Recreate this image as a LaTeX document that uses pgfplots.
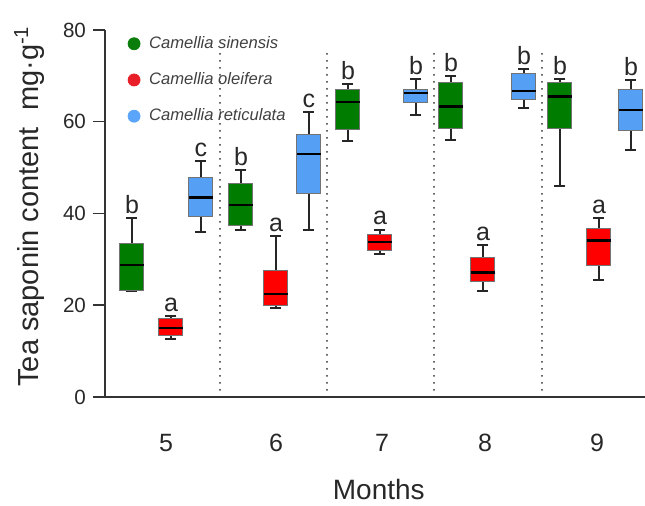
\documentclass[border=0pt]{standalone}
\usepackage{fontspec}
\setmainfont{Liberation Sans}
\usepackage{pgfplots}
\pgfplotsset{compat=1.18}
\usepgfplotslibrary{statistics}
\definecolor{cgreen}{RGB}{0,125,0}
\definecolor{cred}{RGB}{255,0,0}
\definecolor{cblue}{RGB}{85,160,245}
\definecolor{lgreen}{RGB}{10,125,10}
\definecolor{lred}{RGB}{232,30,40}
\definecolor{lblue}{RGB}{90,165,250}
\definecolor{txt}{RGB}{40,40,40}
\pgfplotsset{
  mybox/.style={fill=#1, draw=black!55, line width=0.5pt, solid, forget plot,
    boxplot/draw direction=y,
    boxplot/box extend=24, boxplot/whisker extend=11,
    boxplot/every median/.style={draw=black, line width=1.2pt},
    boxplot/every whisker/.style={draw=black!85, line width=1pt}},
  sep/.style={black!80, line width=1pt, dash pattern=on 0pt off 3.5pt, line cap=round, forget plot},
}
\tikzset{lett/.style={anchor=base, inner sep=0pt, yshift=2.3pt, font=\fontsize{12.5}{14}\selectfont, text=txt}}
\begin{document}
\begin{tikzpicture}
\begin{axis}[name=ax, scale only axis, width=270pt, height=183.5pt,
  xmin=105, xmax=645, ymin=0, ymax=80,
  axis x line=bottom, axis y line=left,
  axis line style={-, line width=0.75pt, draw=black!80},
  ytick={0,20,40,60,80}, xtick={166,276,382,485,597}, xticklabels={5,6,7,8,9},
  x tick style={draw=none}, y tick style={line width=0.75pt, draw=black!80},
  tick align=outside, major tick length=6pt,
  /pgf/number format/assume math mode=true,
  yticklabel style={font=\fontsize{10.3}{12}\selectfont, text=txt},
  xticklabel style={font=\fontsize{12.5}{14}\selectfont, text=txt, yshift=-9pt},
  ylabel={Tea saponin content\ \ mg·g\textsuperscript{-1}},
  ylabel style={at={(axis description cs:-0.14,0.52)}, anchor=center, font=\fontsize{14.5}{16}\selectfont, text=txt},
  xlabel={Months},
  xlabel style={at={(axis description cs:0.507,-0.253)}, anchor=center, font=\fontsize{14}{16}\selectfont, text=txt},
  legend style={at={(axis description cs:0.042,0.995)}, anchor=north west, draw=none, fill=none,
    font=\fontsize{8.3}{10}\selectfont\itshape, text=black!75, row sep=6.6pt, inner sep=0pt,
    nodes={inner xsep=4.5pt}},
  legend cell align=left,
  clip=false]
\addlegendimage{only marks, mark=*, mark size=3pt, color=lgreen}
\addlegendentry{Camellia sinensis}
\addlegendimage{only marks, mark=*, mark size=3pt, color=lred}
\addlegendentry{Camellia oleifera}
\addlegendimage{only marks, mark=*, mark size=3pt, color=lblue}
\addlegendentry{Camellia reticulata}
% separators
\addplot[sep] coordinates {(220,0) (220,74.8)};
\addplot[sep] coordinates {(327,0) (327,74.8)};
\addplot[sep] coordinates {(434,0) (434,74.8)};
\addplot[sep] coordinates {(542,0) (542,74.8)};
% month 5
\addplot[mybox=cgreen, boxplot prepared={draw position=132, lower whisker=23.2, lower quartile=23.2, median=28.8, upper quartile=33.5, upper whisker=39.1}] coordinates {};
\addplot[mybox=cred, boxplot prepared={draw position=171, lower whisker=12.6, lower quartile=13.5, median=15.1, upper quartile=17.1, upper whisker=17.6}] coordinates {};
\addplot[mybox=cblue, boxplot prepared={draw position=201, lower whisker=35.9, lower quartile=39.3, median=43.5, upper quartile=47.9, upper whisker=51.4}] coordinates {};
% month 6
\addplot[mybox=cgreen, boxplot prepared={draw position=241, lower whisker=36.3, lower quartile=37.4, median=41.9, upper quartile=46.5, upper whisker=49.5}] coordinates {};
\addplot[mybox=cred, boxplot prepared={draw position=276, lower whisker=19.3, lower quartile=20.0, median=22.4, upper quartile=27.6, upper whisker=35.1}] coordinates {};
\addplot[mybox=cblue, boxplot prepared={draw position=309, lower whisker=36.3, lower quartile=44.3, median=53.0, upper quartile=57.2, upper whisker=62.2}] coordinates {};
% month 7
\addplot[mybox=cgreen, boxplot prepared={draw position=348, lower whisker=55.7, lower quartile=58.4, median=64.3, upper quartile=67.0, upper whisker=68.2}] coordinates {};
\addplot[mybox=cred, boxplot prepared={draw position=380, lower whisker=31.2, lower quartile=32.0, median=33.8, upper quartile=35.4, upper whisker=36.5}] coordinates {};
\addplot[mybox=cblue, boxplot prepared={draw position=416, lower whisker=61.4, lower quartile=64.3, median=66.2, upper quartile=67.1, upper whisker=69.3}] coordinates {};
% month 8
\addplot[mybox=cgreen, boxplot prepared={draw position=451, lower whisker=56.0, lower quartile=58.5, median=63.3, upper quartile=68.5, upper whisker=69.9}] coordinates {};
\addplot[mybox=cred, boxplot prepared={draw position=483, lower whisker=23.0, lower quartile=25.1, median=27.1, upper quartile=30.3, upper whisker=33.2}] coordinates {};
\addplot[mybox=cblue, boxplot prepared={draw position=524, lower whisker=63.1, lower quartile=64.9, median=66.7, upper quartile=70.5, upper whisker=71.4}] coordinates {};
% month 9
\addplot[mybox=cgreen, boxplot prepared={draw position=560, lower whisker=46.0, lower quartile=58.6, median=65.5, upper quartile=68.5, upper whisker=69.3}] coordinates {};
\addplot[mybox=cred, boxplot prepared={draw position=599, lower whisker=25.4, lower quartile=28.7, median=34.1, upper quartile=36.8, upper whisker=39.1}] coordinates {};
\addplot[mybox=cblue, boxplot prepared={draw position=631, lower whisker=53.8, lower quartile=58.0, median=62.5, upper quartile=67.0, upper whisker=69.1}] coordinates {};
% letters
\node[lett] at (axis cs:132,39.1) {b};
\node[lett] at (axis cs:171,17.6) {a};
\node[lett] at (axis cs:201,51.4) {c};
\node[lett] at (axis cs:241,49.5) {b};
\node[lett] at (axis cs:276,35.1) {a};
\node[lett] at (axis cs:309,62.2) {c};
\node[lett] at (axis cs:348,68.2) {b};
\node[lett] at (axis cs:380,36.5) {a};
\node[lett] at (axis cs:416,69.3) {b};
\node[lett] at (axis cs:451,69.9) {b};
\node[lett] at (axis cs:483,33.2) {a};
\node[lett] at (axis cs:524,71.4) {b};
\node[lett] at (axis cs:560,69.3) {b};
\node[lett] at (axis cs:599,39.1) {a};
\node[lett] at (axis cs:631,69.1) {b};
\end{axis}
\pgfresetboundingbox
\path ([shift={(-52.5pt,-54.5pt)}]ax.south west) rectangle ([shift={(270pt,198.5pt)}]ax.south west);
\end{tikzpicture}
\end{document}
